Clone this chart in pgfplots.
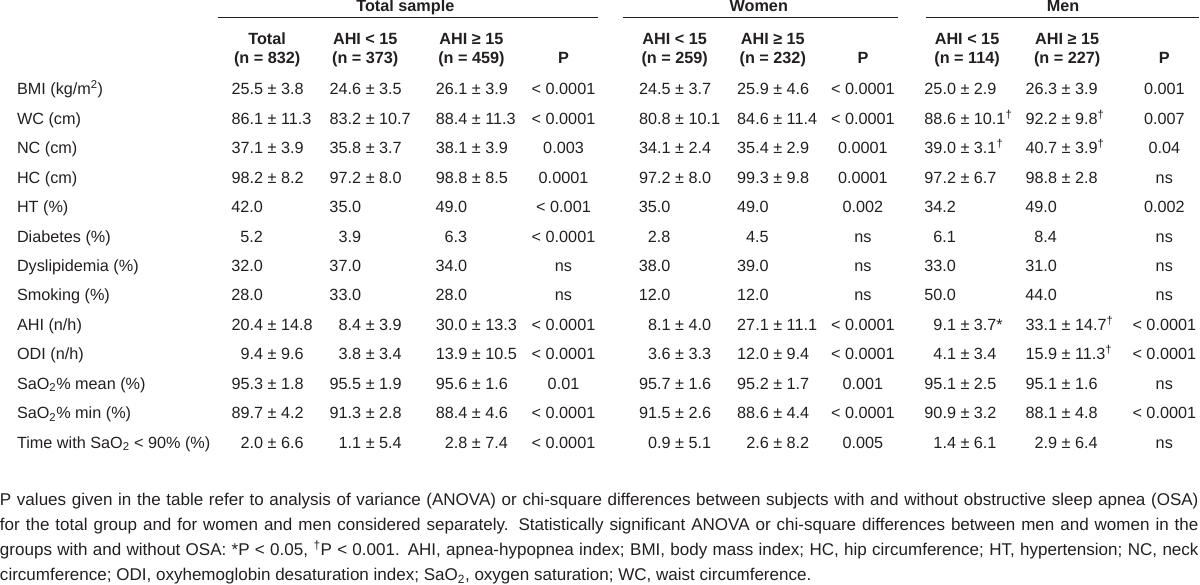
\documentclass[border=0pt]{standalone}
\usepackage{pgfplots}
\pgfplotsset{compat=1.18}
\usepackage{fontspec}
\setmainfont{Liberation Sans}
\definecolor{txt}{HTML}{231F20}

% cell helpers: x, baseline y, first number, second number
\newcommand{\pmc}[4]{\node[anchor=base] at (axis cs:#1,#2) {\llap{#3}\rlap{ ± #4}};}
\newcommand{\plc}[3]{\node[anchor=base east] at (axis cs:#1,#2) {#3};}
\newcommand{\pc}[3]{\node[anchor=base] at (axis cs:#1,#2) {#3};}
\newcommand{\lab}[2]{\node[anchor=base west] at (axis cs:17,#1) {#2};}
\newcommand{\dg}{\textsuperscript{†}}
\newcommand{\fn}{\fontsize{17bp}{20bp}\selectfont}

\begin{document}
\begin{tikzpicture}[every node/.style={inner sep=0pt,text=txt,font=\fontsize{16.2bp}{19bp}\selectfont}]
\begin{axis}[
  scale only axis,
  width=1200bp, height=595bp,
  xmin=0, xmax=1200, ymin=0, ymax=595,
  y dir=reverse,
  hide axis,
  clip=false,
]
% group headings
\node[anchor=base,font=\fontsize{16.2bp}{19bp}\selectfont\bfseries] at (axis cs:405,16) {Total sample};
\node[anchor=base,font=\fontsize{16.2bp}{19bp}\selectfont\bfseries] at (axis cs:758,16) {Women};
\node[anchor=base,font=\fontsize{16.2bp}{19bp}\selectfont\bfseries] at (axis cs:1062,16) {Men};
\draw[txt,line width=1.3bp] (axis cs:218,22) -- (axis cs:597,22);
\draw[txt,line width=1.3bp] (axis cs:622,22) -- (axis cs:897,22);
\draw[txt,line width=1.3bp] (axis cs:925,22) -- (axis cs:1198,22);
% column headings
\begin{scope}[every node/.append style={font=\fontsize{16.2bp}{19bp}\selectfont\bfseries}]
\pc{267}{49}{Total}      \pc{267}{68}{(n = 832)}
\pc{365}{49}{AHI < 15}   \pc{365}{68}{(n = 373)}
\pc{471}{49}{AHI ≥ 15}   \pc{471}{68}{(n = 459)}
\pc{563}{68}{P}
\pc{674}{49}{AHI < 15}   \pc{674}{68}{(n = 259)}
\pc{772}{49}{AHI ≥ 15}   \pc{772}{68}{(n = 232)}
\pc{862}{68}{P}
\pc{966}{49}{AHI < 15}   \pc{966}{68}{(n = 114)}
\pc{1066}{49}{AHI ≥ 15}  \pc{1066}{68}{(n = 227)}
\pc{1163}{68}{P}
\end{scope}

% BMI
\lab{99}{BMI (kg/m\textsuperscript{2})}
\pmc{263}{99}{25.5}{3.8} \pmc{361}{99}{24.6}{3.5} \pmc{467}{99}{26.1}{3.9} \pc{563}{99}{< 0.0001}
\pmc{670}{99}{24.5}{3.7} \pmc{768}{99}{25.9}{4.6} \pc{862}{99}{< 0.0001}
\pmc{955}{99}{25.0}{2.9} \pmc{1056}{99}{26.3}{3.9} \pc{1163}{99}{0.001}
% WC
\lab{128.4}{WC (cm)}
\pmc{263}{128.4}{86.1}{11.3} \pmc{361}{128.4}{83.2}{10.7} \pmc{467}{128.4}{88.4}{11.3} \pc{563}{128.4}{< 0.0001}
\pmc{670}{128.4}{80.8}{10.1} \pmc{768}{128.4}{84.6}{11.4} \pc{862}{128.4}{< 0.0001}
\pmc{955}{128.4}{88.6}{10.1\dg} \pmc{1056}{128.4}{92.2}{9.8\dg} \pc{1163}{128.4}{0.007}
% NC
\lab{157.8}{NC (cm)}
\pmc{263}{157.8}{37.1}{3.9} \pmc{361}{157.8}{35.8}{3.7} \pmc{467}{157.8}{38.1}{3.9} \pc{563}{157.8}{0.003}
\pmc{670}{157.8}{34.1}{2.4} \pmc{768}{157.8}{35.4}{2.9} \pc{862}{157.8}{0.0001}
\pmc{955}{157.8}{39.0}{3.1\dg} \pmc{1056}{157.8}{40.7}{3.9\dg} \pc{1163}{157.8}{0.04}
% HC
\lab{187.2}{HC (cm)}
\pmc{263}{187.2}{98.2}{8.2} \pmc{361}{187.2}{97.2}{8.0} \pmc{467}{187.2}{98.8}{8.5} \pc{563}{187.2}{0.0001}
\pmc{670}{187.2}{97.2}{8.0} \pmc{768}{187.2}{99.3}{9.8} \pc{862}{187.2}{0.0001}
\pmc{955}{187.2}{97.2}{6.7} \pmc{1056}{187.2}{98.8}{2.8} \pc{1163}{187.2}{ns}
% HT
\lab{216.6}{HT (\%)}
\plc{263}{216.6}{42.0} \plc{361}{216.6}{35.0} \plc{467}{216.6}{49.0} \pc{563}{216.6}{< 0.001}
\plc{670}{216.6}{35.0} \plc{768}{216.6}{49.0} \pc{862}{216.6}{0.002}
\plc{955}{216.6}{34.2} \plc{1056}{216.6}{49.0} \pc{1163}{216.6}{0.002}
% Diabetes
\lab{246}{Diabetes (\%)}
\plc{263}{246}{5.2} \plc{361}{246}{3.9} \plc{467}{246}{6.3} \pc{563}{246}{< 0.0001}
\plc{670}{246}{2.8} \plc{768}{246}{4.5} \pc{862}{246}{ns}
\plc{955}{246}{6.1} \plc{1056}{246}{8.4} \pc{1163}{246}{ns}
% Dyslipidemia
\lab{275.4}{Dyslipidemia (\%)}
\plc{263}{275.4}{32.0} \plc{361}{275.4}{37.0} \plc{467}{275.4}{34.0} \pc{563}{275.4}{ns}
\plc{670}{275.4}{38.0} \plc{768}{275.4}{39.0} \pc{862}{275.4}{ns}
\plc{955}{275.4}{33.0} \plc{1056}{275.4}{31.0} \pc{1163}{275.4}{ns}
% Smoking
\lab{304.8}{Smoking (\%)}
\plc{263}{304.8}{28.0} \plc{361}{304.8}{33.0} \plc{467}{304.8}{28.0} \pc{563}{304.8}{ns}
\plc{670}{304.8}{12.0} \plc{768}{304.8}{12.0} \pc{862}{304.8}{ns}
\plc{955}{304.8}{50.0} \plc{1056}{304.8}{44.0} \pc{1163}{304.8}{ns}
% AHI
\lab{334.2}{AHI (n/h)}
\pmc{263}{334.2}{20.4}{14.8} \pmc{361}{334.2}{8.4}{3.9} \pmc{467}{334.2}{30.0}{13.3} \pc{563}{334.2}{< 0.0001}
\pmc{670}{334.2}{8.1}{4.0} \pmc{768}{334.2}{27.1}{11.1} \pc{862}{334.2}{< 0.0001}
\pmc{955}{334.2}{9.1}{3.7*} \pmc{1056}{334.2}{33.1}{14.7\dg} \pc{1163}{334.2}{< 0.0001}
% ODI
\lab{363.6}{ODI (n/h)}
\pmc{263}{363.6}{9.4}{9.6} \pmc{361}{363.6}{3.8}{3.4} \pmc{467}{363.6}{13.9}{10.5} \pc{563}{363.6}{< 0.0001}
\pmc{670}{363.6}{3.6}{3.3} \pmc{768}{363.6}{12.0}{9.4} \pc{862}{363.6}{< 0.0001}
\pmc{955}{363.6}{4.1}{3.4} \pmc{1056}{363.6}{15.9}{11.3\dg} \pc{1163}{363.6}{< 0.0001}
% SaO2 mean
\lab{393}{SaO\textsubscript{2}\% mean (\%)}
\pmc{263}{393}{95.3}{1.8} \pmc{361}{393}{95.5}{1.9} \pmc{467}{393}{95.6}{1.6} \pc{563}{393}{0.01}
\pmc{670}{393}{95.7}{1.6} \pmc{768}{393}{95.2}{1.7} \pc{862}{393}{0.001}
\pmc{955}{393}{95.1}{2.5} \pmc{1056}{393}{95.1}{1.6} \pc{1163}{393}{ns}
% SaO2 min
\lab{422.4}{SaO\textsubscript{2}\% min (\%)}
\pmc{263}{422.4}{89.7}{4.2} \pmc{361}{422.4}{91.3}{2.8} \pmc{467}{422.4}{88.4}{4.6} \pc{563}{422.4}{< 0.0001}
\pmc{670}{422.4}{91.5}{2.6} \pmc{768}{422.4}{88.6}{4.4} \pc{862}{422.4}{< 0.0001}
\pmc{955}{422.4}{90.9}{3.2} \pmc{1056}{422.4}{88.1}{4.8} \pc{1163}{422.4}{< 0.0001}
% Time with SaO2 < 90%
\lab{451.8}{Time with SaO\textsubscript{2} < 90\% (\%)}
\pmc{263}{451.8}{2.0}{6.6} \pmc{361}{451.8}{1.1}{5.4} \pmc{467}{451.8}{2.8}{7.4} \pc{563}{451.8}{< 0.0001}
\pmc{670}{451.8}{0.9}{5.1} \pmc{768}{451.8}{2.6}{8.2} \pc{862}{451.8}{0.005}
\pmc{955}{451.8}{1.4}{6.1} \pmc{1056}{451.8}{2.9}{6.4} \pc{1163}{451.8}{ns}

% footnote
\node[anchor=base west,font=\fn] at (axis cs:0,509) {\makebox[1197bp][s]{P values given in the table refer to analysis of variance (ANOVA) or chi-square differences between subjects with and without obstructive sleep apnea (OSA)}};
\node[anchor=base west,font=\fn] at (axis cs:0,534) {\makebox[1197bp][s]{for the total group and for women and men considered separately. Statistically significant ANOVA or chi-square differences between men and women in the}};
\node[anchor=base west,font=\fn] at (axis cs:0,559) {\makebox[1197bp][s]{groups with and without OSA: *P < 0.05, \dg P < 0.001. AHI, apnea-hypopnea index; BMI, body mass index; HC, hip circumference; HT, hypertension; NC, neck}};
\node[anchor=base west,font=\fn] at (axis cs:0,584) {circumference; ODI, oxyhemoglobin desaturation index; SaO\textsubscript{2}, oxygen saturation; WC, waist circumference.};
\end{axis}
\end{tikzpicture}
\end{document}
